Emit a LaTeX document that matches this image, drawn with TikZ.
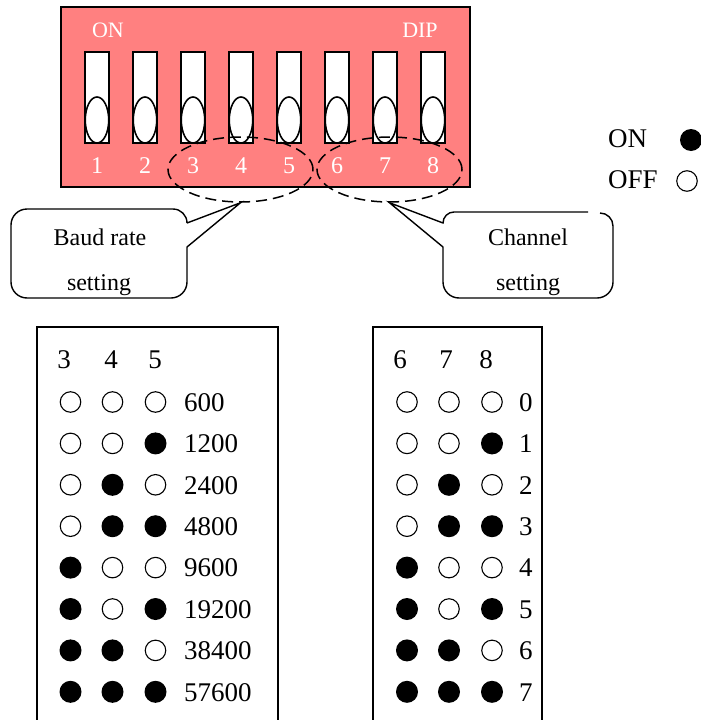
\documentclass[tikz,border=0pt]{standalone}
\usepackage{fontspec}
\setmainfont{Liberation Serif}
\usetikzlibrary{shapes.geometric}
\definecolor{dippink}{RGB}{255,128,128}
\begin{document}
\begin{tikzpicture}[x=1pt,y=1pt,
  dipbox/.style={draw=black, line width=1.6pt, fill=dippink, inner sep=0pt, minimum width=409pt, minimum height=180pt},
  slot/.style={draw=black, line width=1.6pt, fill=white, inner sep=0pt, minimum width=24pt, minimum height=91pt},
  knob/.style={draw=black, line width=1.6pt, fill=white, ellipse, inner sep=0pt, minimum width=23.5pt, minimum height=46pt},
  whitelbl/.style={text=white, inner sep=0pt, anchor=base, font=\fontsize{22}{26}\selectfont},
  numlbl/.style={text=white, inner sep=0pt, anchor=base, font=\fontsize{24}{28}\selectfont},
  selring/.style={draw=black, dash pattern=on 11pt off 6pt, line width=1.5pt, ellipse, inner sep=0pt, minimum width=145pt, minimum height=65pt},
  callout/.style={draw=black, line width=1.4pt},
  calltext/.style={inner sep=0pt, anchor=base, font=\fontsize{24}{28}\selectfont},
  tabletext/.style={inner sep=0pt, anchor=base west, font=\fontsize{27}{32}\selectfont},
  headtext/.style={inner sep=0pt, anchor=base, font=\fontsize{27}{32}\selectfont},
  legtext/.style={inner sep=0pt, anchor=base west, font=\fontsize{27}{32}\selectfont},
  tablebox/.style={draw=black, line width=1.5pt},
  dot1/.style={circle, fill=black, inner sep=0pt, minimum size=22pt},
  dot0/.style={circle, draw=black, line width=1.1pt, inner sep=0pt, minimum size=20.5pt},
]
\useasboundingbox (0,0) rectangle (701,-720);

% DIP switch body
\node[dipbox] (dip) at (265.5,-97) {};
\node[whitelbl] (onlbl) at (108,-37) {ON};
\node[whitelbl] (diplbl) at (420,-37) {DIP};
\foreach \k in {1,...,8} {
  \pgfmathsetmacro\sx{97+48*(\k-1)}
  \node[slot] (slot\k) at (\sx,-97.5) {};
  \node[knob] (knob\k) at (\sx,-120) {};
  \node[numlbl] (num\k) at (\sx,-173) {\k};
}

% selection rings
\node[selring] (sel1) at (240.5,-169.5) {};
\node[selring] (sel2) at (389.5,-169.5) {};

% callouts
\draw[callout] (187,-223) -- (sel1.south) -- (187,-247) -- (187,-282)
  arc[start angle=0,end angle=-90,radius=16] -- (27,-298)
  arc[start angle=270,end angle=180,radius=16] -- (11,-225)
  arc[start angle=180,end angle=90,radius=16] -- (173,-209)
  arc[start angle=90,end angle=0,radius=14];
\draw[callout] (588,-212) -- (454,-212)
  arc[start angle=90,end angle=180,radius=11] -- (sel2.south) -- (443,-247) -- (443,-282)
  arc[start angle=180,end angle=270,radius=16] -- (597,-298)
  arc[start angle=270,end angle=360,radius=16] -- (613,-226)
  arc[start angle=0,end angle=90,radius=13];
\node[calltext] (baud1) at (100,-245) {Baud rate};
\node[calltext] (baud2) at (99,-290) {setting};
\node[calltext] (chan1) at (528,-245) {Channel};
\node[calltext] (chan2) at (528,-290) {setting};

% legend
\node[legtext] (legon) at (608,-147.5) {ON};
\node[dot1] (legondot) at (691,-140) {};
\node[legtext] (legoff) at (608,-188.5) {OFF};
\node[dot0] (legoffdot) at (687,-181) {};

% tables
\draw[tablebox] (37,-720) -- (37,-327) -- (278,-327) -- (278,-720);
\draw[tablebox] (373,-720) -- (373,-327) -- (542,-327) -- (542,-720);
\node[headtext] (lh3) at (64,-368.5) {3};
\node[headtext] (lh4) at (111,-368.5) {4};
\node[headtext] (lh5) at (155,-368.5) {5};
\node[headtext] (rh6) at (400,-368.5) {6};
\node[headtext] (rh7) at (446,-368.5) {7};
\node[headtext] (rh8) at (486,-368.5) {8};

\foreach \a/\b/\c/\v [count=\i from 0] in {0/0/0/600,0/0/1/1200,0/1/0/2400,0/1/1/4800,1/0/0/9600,1/0/1/19200,1/1/0/38400,1/1/1/57600} {
  \pgfmathsetmacro\ry{-402-41.4*\i}
  \node[dot\a] (L\i a) at (70.5,\ry) {};
  \node[dot\b] (L\i b) at (112.5,\ry) {};
  \node[dot\c] (L\i c) at (155.5,\ry) {};
  \node[tabletext] (Lv\i) at (184,{\ry-9.3}) {\v};
  \node[dot\a] (R\i a) at (407,\ry) {};
  \node[dot\b] (R\i b) at (449,\ry) {};
  \node[dot\c] (R\i c) at (492,\ry) {};
  \node[tabletext] (Rv\i) at (519,{\ry-9.3}) {\i};
}
\end{tikzpicture}
\end{document}
